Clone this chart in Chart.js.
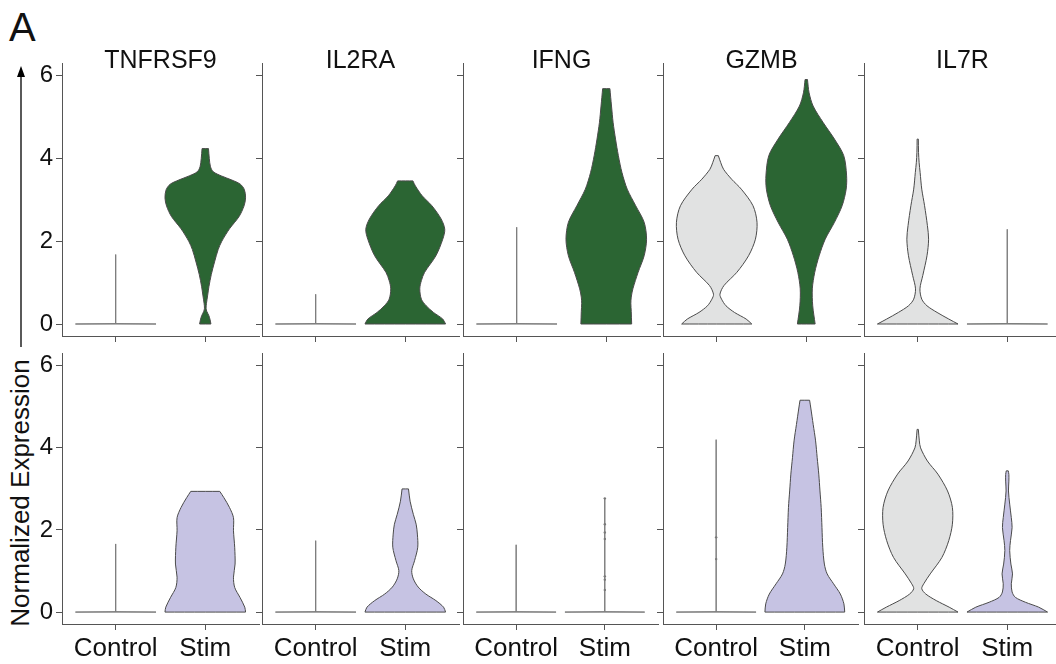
<!DOCTYPE html>
<html><head><meta charset="utf-8">
<script src="https://cdn.jsdelivr.net/npm/chart.js@4.4.1/dist/chart.umd.min.js"></script>
<style>
html,body{margin:0;padding:0;background:#fff;width:1056px;height:664px;overflow:hidden;font-family:"Liberation Sans",Arial,sans-serif;}
canvas{position:absolute;}
.t{position:absolute;text-align:center;font-size:25px;line-height:1;color:#111;white-space:nowrap;}
#ylab{position:absolute;left:20px;top:493px;transform:translate(-50%,-50%) rotate(-90deg);font-size:26px;line-height:1;color:#111;white-space:nowrap;}
#panelA{position:absolute;left:9px;top:7px;font-size:40px;line-height:1;color:#111;}
</style></head><body>
<div id="panelA">A</div>
<svg style="position:absolute;left:0;top:0" width="60" height="664">
  <line x1="21" y1="347" x2="21" y2="76" stroke="#000" stroke-width="1.3"/>
  <polygon points="21,66 17,77 25,77" fill="#000"/>
</svg>
<div id="ylab">Normalized Expression</div>
<script>
const genes = ['TNFRSF9', 'IL2RA', 'IFNG', 'GZMB', 'IL7R'];
const groups = ['Control', 'Stim'];
const yTicks = [0, 2, 4, 6];

// violin profiles: [expression, relative half-width]
const topControl = [
  [[0,1],[0.01,0.004],[1.68,0.004]],
  [[0,1],[0.01,0.004],[0.72,0.004]],
  [[0,1],[0.01,0.004],[2.34,0.004]],
  [[0,0.87],[0.12,0.73],[0.28,0.44],[0.44,0.23],[0.6,0.12],[0.72,0.08],[0.93,0.18],[1.25,0.5],[1.65,0.79],[2.05,0.96],[2.46,1.0],[2.86,0.9],[3.26,0.61],[3.5,0.37],[3.74,0.17],[3.9,0.1],[4.07,0.04]],
  [[0,1.0],[0.12,0.77],[0.28,0.48],[0.44,0.23],[0.6,0.1],[0.85,0.055],[1.17,0.125],[1.65,0.23],[2.05,0.27],[2.38,0.24],[2.86,0.17],[3.26,0.1],[3.66,0.06],[3.9,0.035],[4.15,0.02],[4.47,0.015]]
];
const topStim = [
  [[0,0.14],[0.1,0.12],[0.2,0.09],[0.3,0.04],[0.38,0.02],[0.5,0.03],[0.7,0.06],[0.9,0.09],[1.2,0.15],[1.5,0.23],[1.8,0.32],[2.0,0.41],[2.3,0.6],[2.6,0.84],[2.85,0.96],[3.05,1.0],[3.25,0.97],[3.38,0.87],[3.48,0.66],[3.58,0.4],[3.68,0.2],[3.8,0.13],[4.0,0.1],[4.24,0.08]],
  [[0,1.0],[0.12,0.93],[0.28,0.7],[0.44,0.52],[0.6,0.4],[0.85,0.36],[1.05,0.4],[1.25,0.48],[1.65,0.76],[2.05,0.93],[2.29,0.98],[2.54,0.89],[2.86,0.66],[3.1,0.42],[3.34,0.25],[3.46,0.19]],
  [[0,0.63],[0.3,0.62],[0.5,0.61],[0.65,0.62],[0.85,0.66],[1.25,0.79],[1.65,0.94],[2.05,1.0],[2.46,0.94],[2.86,0.73],[3.26,0.52],[3.66,0.39],[4.07,0.3],[4.47,0.23],[4.87,0.17],[5.27,0.13],[5.69,0.09]],
  [[0,0.22],[0.44,0.16],[0.85,0.15],[1.25,0.21],[1.65,0.32],[2.05,0.47],[2.46,0.7],[2.86,0.89],[3.26,0.99],[3.6,1.0],[4.07,0.93],[4.47,0.7],[4.87,0.42],[5.27,0.17],[5.59,0.07],[5.91,0.03]],
  [[0,1],[0.01,0.004],[2.29,0.004]]
];
const bottomControl = [
  [[0,1],[0.01,0.004],[1.66,0.004]],
  [[0,1],[0.01,0.004],[1.74,0.004]],
  [[0,1],[0.01,0.004],[1.64,0.004]],
  [[0,1],[0.01,0.004],[4.2,0.004]],
  [[0,1.0],[0.12,0.78],[0.28,0.46],[0.44,0.2],[0.57,0.1],[0.69,0.15],[0.93,0.31],[1.33,0.6],[1.74,0.77],[2.14,0.86],[2.55,0.86],[2.95,0.74],[3.36,0.5],[3.68,0.24],[4.0,0.07],[4.17,0.04],[4.45,0.015]]
];
const bottomStim = [
  [[0,1.0],[0.12,0.98],[0.36,0.86],[0.6,0.73],[0.85,0.7],[1.17,0.74],[1.58,0.73],[1.98,0.7],[2.3,0.7],[2.55,0.6],[2.79,0.46],[2.94,0.36]],
  [[0,1.0],[0.12,0.95],[0.28,0.76],[0.44,0.51],[0.61,0.32],[0.81,0.2],[1.01,0.16],[1.25,0.23],[1.58,0.31],[1.9,0.3],[2.14,0.27],[2.38,0.2],[2.7,0.12],[3.0,0.08]],
  [[0,1],[0.01,0.004],[2.77,0.004]],
  [[0,1.0],[0.2,0.98],[0.44,0.89],[0.69,0.72],[0.93,0.56],[1.17,0.49],[1.58,0.45],[2.06,0.43],[2.55,0.41],[2.95,0.38],[3.36,0.35],[3.76,0.31],[4.17,0.27],[4.57,0.21],[4.97,0.15],[5.16,0.12]],
  [[0,1.0],[0.12,0.78],[0.24,0.45],[0.36,0.2],[0.49,0.12],[0.69,0.1],[0.93,0.13],[1.17,0.09],[1.5,0.06],[1.74,0.08],[2.06,0.12],[2.3,0.1],[2.63,0.06],[2.95,0.03],[3.19,0.04],[3.35,0.04],[3.44,0.025]]
];
// individual cells drawn on thin violins (bottom row)
const bottomControlPoints = [[], [], [], [1.82, 1.29], []];
const bottomStimPoints = [[], [], [2.77, 2.14, 1.94, 1.78, 0.87, 0.79, 0.54], [], []];

const FONT = 'Liberation Sans';
Chart.defaults.font.family = FONT;
const GREEN = '#2b6533', GRAY = '#e1e2e2', LAV = '#c6c3e3';
const HALF = 0.45;

function violin(center, prof) {
  const R = prof.map(([v, w]) => ({x: center + HALF * w, y: v}));
  const Lp = prof.map(([v, w]) => ({x: center - HALF * w, y: v}));
  const c = p => ({x: p.x, y: p.y});
  const n = prof.length;
  const pts = [c(Lp[0]), c(R[0]), c(R[0])];
  for (let i = 1; i < n - 1; i++) pts.push(c(R[i]));
  pts.push(c(R[n - 1]), c(R[n - 1]), c(Lp[n - 1]), c(Lp[n - 1]));
  for (let i = n - 2; i >= 1; i--) pts.push(c(Lp[i]));
  pts.push(c(Lp[0]));
  return pts;
}

function vDataset(center, prof, fillColor) {
  const thin = prof.length <= 3;
  return {
    data: violin(center, prof),
    showLine: true,
    fill: 'shape',
    backgroundColor: fillColor,
    borderColor: thin ? '#7a7a7a' : '#4a4a4a',
    borderWidth: 1,
    tension: thin ? 0 : 0.3,
    pointRadius: 0,
    borderJoinStyle: 'round'
  };
}

const L = [62, 262, 463, 663, 864];
const PW = 197, YW = 60, PT = 20;
const rows = [
  {top: 63, bottom: 336, xh: 10, pb: 20, ctrl: topControl, stim: topStim, stimColor: GREEN, cp: null, sp: null},
  {top: 353, bottom: 624, xh: 38, pb: 0, ctrl: bottomControl, stim: bottomStim, stimColor: LAV, cp: bottomControlPoints, sp: bottomStimPoints}
];

rows.forEach((row, r) => {
  genes.forEach((g, c) => {
    const cv = document.createElement('canvas');
    const w = YW + PW + 2;
    const h = PT + (row.bottom - row.top) + row.xh + row.pb;
    cv.width = w; cv.height = h;
    cv.style.left = (L[c] - YW) + 'px';
    cv.style.top = (row.top - PT) + 'px';
    cv.style.width = w + 'px'; cv.style.height = h + 'px';
    document.body.appendChild(cv);

    const ds = [
      vDataset(1, row.ctrl[c], GRAY),
      vDataset(2, row.stim[c], row.stimColor)
    ];
    const pts = [];
    if (row.cp) row.cp[c].forEach(v => pts.push({x: 1, y: v}));
    if (row.sp) row.sp[c].forEach(v => pts.push({x: 2, y: v}));
    if (pts.length) ds.push({data: pts, showLine: false, pointRadius: 1.2, pointBackgroundColor: '#777', pointBorderWidth: 0});

    new Chart(cv, {
      type: 'scatter',
      data: {datasets: ds},
      options: {
        responsive: false, animation: false, events: [],
        layout: {padding: {top: PT, right: 2, left: 0, bottom: row.pb}},
        plugins: {legend: {display: false}, tooltip: {enabled: false}, title: {display: false}},
        scales: {
          x: {
            type: 'linear', min: 0.4, max: 2.6,
            afterBuildTicks: s => { s.ticks = [{value: 1}, {value: 2}]; },
            afterFit: s => { s.height = row.xh; },
            ticks: {display: r === 1, autoSkip: false, maxRotation: 0, padding: 3,
                    color: '#111', font: {family: FONT, size: 26},
                    callback: (v, i) => groups[i]},
            grid: {display: true, drawOnChartArea: false, drawTicks: true, tickLength: 6, color: '#555', lineWidth: 1},
            border: {display: true, color: '#555', width: 1}
          },
          y: {
            type: 'linear', min: -0.29, max: 6.31,
            afterBuildTicks: s => { s.ticks = yTicks.map(v => ({value: v})); },
            afterFit: s => { s.width = YW; },
            ticks: {display: c === 0, padding: 3, color: '#111', font: {family: FONT, size: 24},
                    callback: v => String(v)},
            grid: {display: true, drawOnChartArea: false, drawTicks: true, tickLength: 6, color: '#555', lineWidth: 1},
            border: {display: true, color: '#555', width: 1}
          }
        }
      }
    });

    if (r === 0) {
      const t = document.createElement('div');
      t.className = 't';
      t.textContent = g;
      t.style.left = L[c] + 'px';
      t.style.width = PW + 'px';
      t.style.top = '47px';
      document.body.appendChild(t);
    }
  });
});
</script>
</body></html>
